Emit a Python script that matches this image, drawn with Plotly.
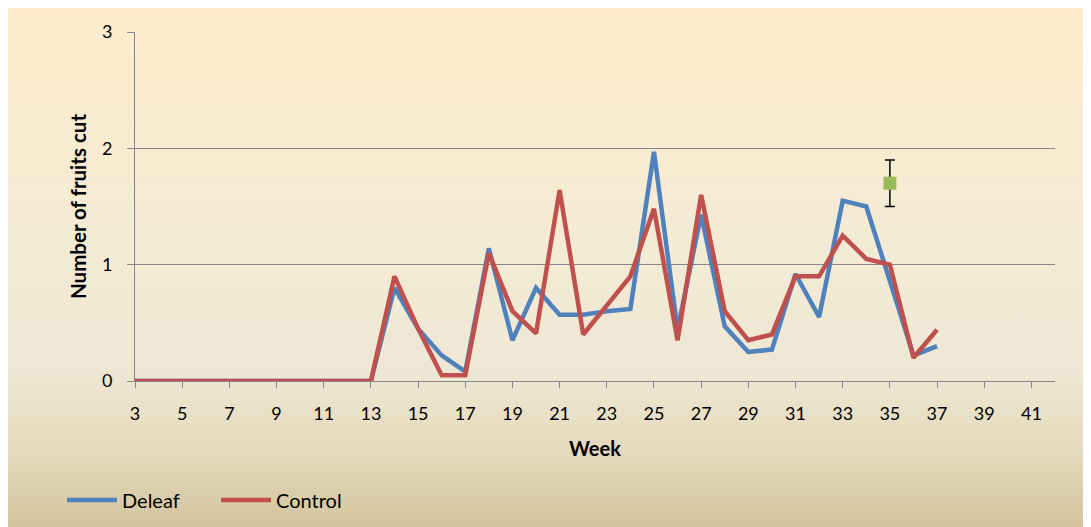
import base64
import plotly.graph_objects as go

weeks = [3, 4, 5, 6, 7, 8, 9, 10, 11, 12, 13, 14, 15, 16, 17, 18, 19, 20, 21, 22,
         23, 24, 25, 26, 27, 28, 29, 30, 31, 32, 33, 34, 35, 36, 37]
deleaf = [0, 0, 0, 0, 0, 0, 0, 0, 0, 0, 0, 0.8, 0.45, 0.22, 0.08, 1.14, 0.35, 0.8,
          0.57, 0.57, 0.6, 0.62, 1.97, 0.44, 1.43, 0.47, 0.25, 0.27, 0.92, 0.55,
          1.55, 1.5, 0.87, 0.22, 0.3]
control = [0, 0, 0, 0, 0, 0, 0, 0, 0, 0, 0, 0.9, 0.45, 0.05, 0.05, 1.1, 0.6, 0.41,
           1.64, 0.4, 0.65, 0.9, 1.48, 0.35, 1.6, 0.6, 0.35, 0.4, 0.9, 0.9, 1.25,
           1.05, 1.0, 0.2, 0.44]
ref_week = [35]
ref_value = [1.7]
ref_error = [0.2]
x_ticks = [3, 5, 7, 9, 11, 13, 15, 17, 19, 21, 23, 25, 27, 29, 31, 33, 35, 37, 39, 41]
y_ticks = [0, 1, 2, 3]

FONT = "Lato"
OFF = 8  # page body margin
W, H = 1091 - OFF, 527 - OFF
L, R, T, B = 135 - OFF, 1055 - OFF, 32 - OFF, 381 - OFF

svg = f'''<svg xmlns="http://www.w3.org/2000/svg" width="{W}" height="{H}" viewBox="0 0 {W} {H}" preserveAspectRatio="none">
<defs><linearGradient id="g" x1="0" y1="0" x2="0" y2="1">
<stop offset="0" stop-color="#FEECCC"/>
<stop offset="0.45" stop-color="#F4EBD5"/>
<stop offset="0.7" stop-color="#EEE7D3"/>
<stop offset="0.85" stop-color="#E4DABD"/>
<stop offset="1" stop-color="#D3C49F"/>
</linearGradient></defs>
<rect x="0" y="0" width="{W}" height="{H}" fill="url(#g)"/>
</svg>'''
src = "data:image/svg+xml;base64," + base64.b64encode(svg.encode()).decode()

pw, ph = R - L, B - T

fig = go.Figure()
fig.add_trace(go.Scatter(x=weeks, y=deleaf, mode="lines", name="Deleaf",
                         line=dict(color="#4F81BD", width=4.5)))
fig.add_trace(go.Scatter(x=weeks, y=control, mode="lines", name="Control",
                         line=dict(color="#C0504D", width=4.5)))
fig.add_trace(go.Scatter(x=ref_week, y=ref_value, mode="markers", showlegend=False,
                         marker=dict(symbol="square", size=13, color="#9BBB59"),
                         error_y=dict(type="data", array=ref_error, color="#000000",
                                      thickness=1.5, width=5)))

fig.update_layout(
    width=W, height=H,
    margin=dict(l=L, r=W - R, t=T, b=H - B),
    paper_bgcolor="#FFFFFF",
    plot_bgcolor="rgba(0,0,0,0)",
    font=dict(family=FONT, size=18, color="#000000"),
    images=[dict(source=src, xref="paper", yref="paper",
                 x=-L / pw, y=B / ph, sizex=W / pw, sizey=H / ph,
                 xanchor="left", yanchor="top", sizing="stretch", layer="below")],
    xaxis=dict(range=[3, 42], tickvals=x_ticks, ticks="outside", ticklen=6,
               tickcolor="#868686", showgrid=False, showline=True,
               linecolor="#868686", linewidth=1, zeroline=False,
               ticklabelstandoff=10,
               title=dict(text="<b>Week</b>", font=dict(size=20), standoff=19)),
    yaxis=dict(range=[0, 3], tickvals=y_ticks, ticks="outside", ticklen=7,
               tickcolor="#868686", showgrid=True, gridcolor="#868686", gridwidth=1,
               showline=True, linecolor="#868686", linewidth=1, zeroline=False,
               ticklabelstandoff=11,
               title=dict(text="<b>Number of fruits cut</b>", font=dict(size=20.5),
                          standoff=9)),
    legend=dict(orientation="h", xref="container", yref="container",
                x=54 / W, y=1 - 492 / H, xanchor="left",
                yanchor="middle", font=dict(size=20), bgcolor="rgba(0,0,0,0)",
                itemwidth=50, entrywidth=89, entrywidthmode="pixels",
                tracegroupgap=0),
)

fig.write_html("out.html")
